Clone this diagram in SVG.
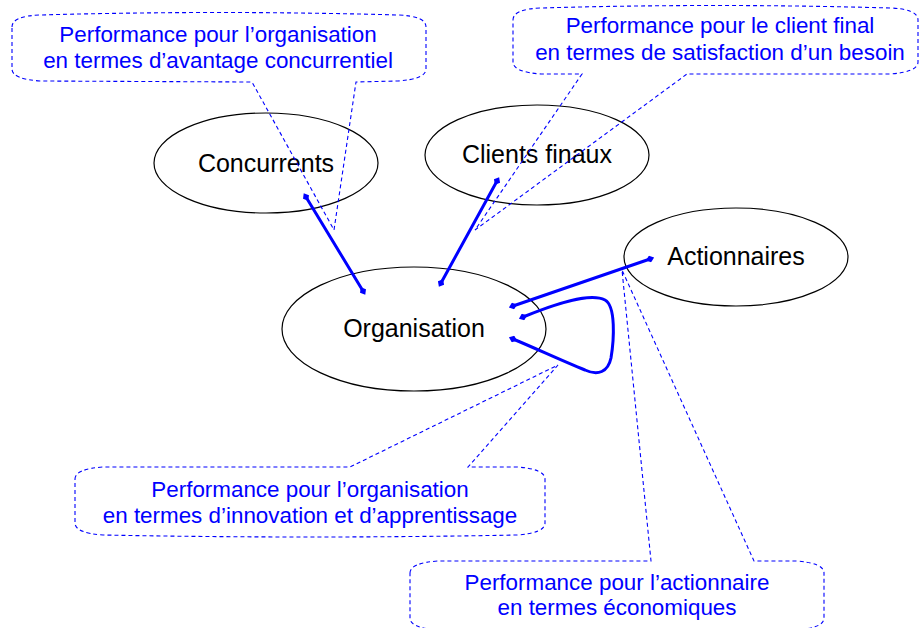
<svg xmlns="http://www.w3.org/2000/svg" width="920" height="628" viewBox="0 0 920 628">
<style>
.node{fill:none;stroke:#000;stroke-width:1.2}
.nt{font-family:"Liberation Sans",Arial,sans-serif;font-size:25px;fill:#000;text-anchor:middle}
.co{fill:none;stroke:#0000FF;stroke-width:1.1;stroke-dasharray:4 3}
.ct{font-family:"Liberation Sans",Arial,sans-serif;font-size:22.4px;fill:#0000FF;text-anchor:middle}
.cn{fill:none;stroke:#0000FF;stroke-width:3;stroke-linecap:round;marker-start:url(#dm);marker-end:url(#dm)}
</style>
<defs>
<marker id="dm" viewBox="0 0 10 8" refX="5" refY="4" markerWidth="9" markerHeight="7" markerUnits="userSpaceOnUse" orient="auto">
<path d="M0 4 L5 0 L10 4 L5 8 Z" fill="#0000FF"/>
</marker>
</defs>
<rect width="920" height="628" fill="#fff"/>
<g id="concurrents">
<ellipse class="node" cx="266" cy="163" rx="112" ry="50"/>
<text class="nt" x="266" y="172">Concurrents</text>
</g>
<g id="clients-finaux">
<ellipse class="node" cx="537" cy="155" rx="112" ry="50"/>
<text class="nt" x="537" y="163">Clients finaux</text>
</g>
<g id="organisation">
<ellipse class="node" cx="414" cy="329" rx="132" ry="62"/>
<text class="nt" x="414" y="337">Organisation</text>
</g>
<g id="actionnaires">
<ellipse class="node" cx="736" cy="257" rx="112" ry="49"/>
<text class="nt" x="736" y="265">Actionnaires</text>
</g>
<g id="connectors">
<path class="cn" d="M363 291 L306 197"/>
<path class="cn" d="M441 283 L497 181"/>
<path class="cn" d="M513 306 L650 259"/>
<path class="cn" d="M523 317 C555 304 590 292 605 300 C616 306 614 340 611 358 C608 372 598 376 585 370 C560 360 535 348 513 339"/>
</g>
<g id="callout-avantage">
<path class="co" d="M12 27 Q12 16 40 15 Q219 10 398 15 Q426 16 426 27 L426 69 Q426 79 398 81 L356 82 L334 230 L252 82 L40 81 Q12 79 12 69 Z"/>
<text class="ct" x="218" y="42">Performance pour l’organisation</text>
<text class="ct" x="218" y="68">en termes d’avantage concurrentiel</text>
</g>
<g id="callout-client">
<path class="co" d="M513 20 Q513 9 541 8 Q716 3 890 8 Q918 9 918 20 L918 62 Q918 72 890 74 L687 74 L475 230 L582 74 L541 74 Q513 72 513 62 Z"/>
<text class="ct" x="720" y="33">Performance pour le client final</text>
<text class="ct" x="720" y="60">en termes de satisfaction d’un besoin</text>
</g>
<g id="callout-innovation">
<path class="co" d="M75 479 Q75 469 103 467 L350 467 L558 365 L468 467 L517 467 Q545 469 545 479 L545 523 Q545 533 517 535 Q310 539 103 535 Q75 533 75 523 Z"/>
<text class="ct" x="310" y="497">Performance pour l’organisation</text>
<text class="ct" x="310" y="523">en termes d’innovation et d’apprentissage</text>
</g>
<g id="callout-actionnaire">
<path class="co" d="M410 573 Q410 563 438 561 L651 561 L622 270 L754 561 L796 561 Q824 563 824 573 L824 618 Q824 628 796 630 Q617 634 438 630 Q410 628 410 618 Z"/>
<text class="ct" x="617" y="590">Performance pour l’actionnaire</text>
<text class="ct" x="617" y="615">en termes économiques</text>
</g>
</svg>
